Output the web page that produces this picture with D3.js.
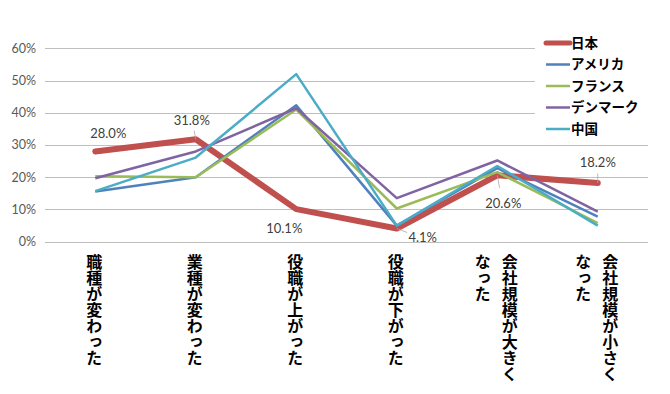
<!DOCTYPE html>
<html>
<head>
<meta charset="utf-8">
<script src="https://cdn.jsdelivr.net/npm/d3@7"></script>
<style>
  body { margin: 0; background: #fff; }
  svg { display: block; }
</style>
</head>
<body>
<div id="chart"></div>
<script>
// categories (x axis), each may have two lines
const categories = [
  ["職種が変わった"],
  ["業種が変わった"],
  ["役職が上がった"],
  ["役職が下がった"],
  ["会社規模が大きく", "なった"],
  ["会社規模が小さく", "なった"]
];
const seriesNames = ["日本", "アメリカ", "フランス", "デンマーク", "中国"];
const japan   = [28.0, 31.8, 10.1, 4.1, 20.6, 18.2];
const america = [15.6, 20.0, 42.3, 5.0, 22.8, 7.8];
const france  = [20.3, 20.0, 41.0, 10.3, 21.6, 5.8];
const denmark = [19.7, 28.0, 41.4, 13.5, 25.2, 9.3];
const china   = [15.7, 26.1, 52.0, 5.0, 23.5, 5.0];
const yTicks = [0, 10, 20, 30, 40, 50, 60];

const colors = ["#C0504D", "#4F81BD", "#9BBB59", "#8064A2", "#4BACC6"];
const widths = [6, 2.5, 2.5, 2.5, 2.5];
// label offsets for the 日本 data labels (dx, dy) and whether a leader line is drawn
const labelOffsets = [[13, -18, 0], [-4, -19, 1], [-12, 19, 0], [26, 9, 1], [6, 28, 1], [0, -21, 1]];

const W = 670, H = 394;
const svg = d3.select("#chart").append("svg")
  .attr("width", W).attr("height", H);

const x = d3.scaleBand().domain(d3.range(categories.length)).range([45, 648]);
const y = d3.scaleLinear().domain([0, 60]).range([241.7, 48.3]);
const cx = i => x(i) + x.bandwidth() / 2;
const numFont = "Lato, 'Open Sans', sans-serif";

// gridlines
svg.append("g").selectAll("line").data(yTicks).join("line")
  .attr("x1", 45).attr("x2", 648)
  .attr("y1", d => Math.round(y(d)) + 0.5).attr("y2", d => Math.round(y(d)) + 0.5)
  .attr("stroke", "#bfbfbf").attr("stroke-width", 1);

// y tick labels
svg.append("g").selectAll("text").data(yTicks).join("text")
  .attr("x", 36).attr("y", d => y(d)).attr("dy", "0.35em")
  .attr("text-anchor", "end")
  .attr("font-family", numFont)
  .attr("font-size", 12.5).attr("fill", "#595959")
  .text(d => d + "%");

// x labels (vertical)
const xl = svg.append("g");
categories.forEach((lines, i) => {
  const n = lines.length;
  lines.forEach((t, j) => {
    xl.append("text")
      .attr("x", cx(i) + (n - 1) * 13.5 - j * 27 - 1)
      .attr("y", 254)
      .attr("writing-mode", "vertical-rl")
      .attr("font-family", "'Noto Sans CJK JP', sans-serif")
      .attr("font-weight", "bold")
      .attr("font-size", 16).attr("fill", "#000")
      .text(t);
  });
});

// lines
const allSeries = [japan, america, france, denmark, china];
const line = d3.line().x((d, i) => cx(i)).y(d => y(d));
svg.append("g").selectAll("path").data(allSeries).join("path")
  .attr("d", line)
  .attr("fill", "none")
  .attr("stroke", (d, i) => colors[i])
  .attr("stroke-width", (d, i) => widths[i])
  .attr("stroke-linejoin", "round")
  .attr("stroke-linecap", (d, i) => i === 0 ? "round" : "butt");

// data labels for 日本
const lab = svg.append("g");
japan.forEach((v, i) => {
  const [dx, dy, leader] = labelOffsets[i];
  if (leader) {
    lab.append("line")
      .attr("x1", cx(i)).attr("y1", y(v))
      .attr("x2", cx(i) + dx * 0.4).attr("y2", y(v) + dy * 0.45)
      .attr("stroke", "#a6a6a6").attr("stroke-width", 0.8);
  }
  lab.append("text")
    .attr("x", cx(i) + dx).attr("y", y(v) + dy).attr("dy", "0.35em")
    .attr("text-anchor", "middle")
    .attr("font-family", numFont)
    .attr("font-size", 13).attr("fill", "#404040")
    .text(v.toFixed(1) + "%");
});

// legend
const lg = svg.append("g");
lg.append("rect").attr("x", 535).attr("y", 30).attr("width", 135).attr("height", 110).attr("fill", "#fff");
seriesNames.forEach((name, i) => {
  const ly = 43 + i * 21.5;
  lg.append("line")
    .attr("x1", 546).attr("x2", 570).attr("y1", ly).attr("y2", ly)
    .attr("stroke", colors[i]).attr("stroke-width", i === 0 ? 5 : 2.5)
    .attr("stroke-linecap", i === 0 ? "round" : "butt");
  lg.append("text")
    .attr("x", 571).attr("y", ly).attr("dy", "0.36em")
    .attr("font-family", "'Noto Sans CJK JP', sans-serif")
    .attr("font-weight", "bold").attr("font-size", 13.5).attr("fill", "#000")
    .text(name);
});
</script>
</body>
</html>
